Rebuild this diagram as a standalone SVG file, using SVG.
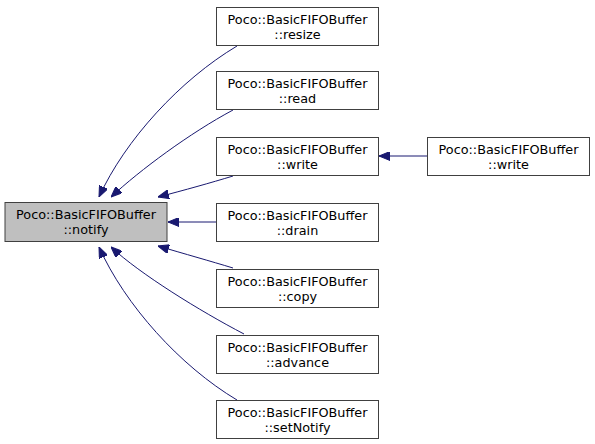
<svg xmlns="http://www.w3.org/2000/svg" width="595" height="444" viewBox="0 0 595 444">
<defs>
<style>
.node rect{fill:#ffffff;stroke:#404040;stroke-width:1}
.node.main rect{fill:#bfbfbf}
.node text{font-family:"DejaVu Sans",sans-serif;font-size:12.8px;text-anchor:middle;fill:#000}
.edge{fill:none;stroke:#191970;stroke-width:1}
</style>
<marker id="ah" viewBox="0 0 11 9" refX="11" refY="4.5" markerWidth="11" markerHeight="9" markerUnits="userSpaceOnUse" orient="auto">
<path d="M11,4.5 L0,0 L0,9 z" fill="#191970" stroke="#191970" stroke-width="1"/>
</marker>
</defs>
<rect width="595" height="444" fill="#ffffff"/>
<g id="connectors">
<path class="edge" marker-end="url(#ah)" d="M237,46 C180,80 125,140 99,197"/>
<path class="edge" marker-end="url(#ah)" d="M233,110 C190,133 140,170 111,197"/>
<path class="edge" marker-end="url(#ah)" d="M233,176 C210,183 185,190 158,197"/>
<path class="edge" marker-end="url(#ah)" d="M216,222 L168,222"/>
<path class="edge" marker-end="url(#ah)" d="M233,268 C210,261 185,254 158,246"/>
<path class="edge" marker-end="url(#ah)" d="M244,334 C200,311 140,274 111,247"/>
<path class="edge" marker-end="url(#ah)" d="M237,400 C180,366 125,305 99,247"/>
<path class="edge" marker-end="url(#ah)" d="M427,156 L379,156"/>
</g>
<g id="notify" class="node main"><rect x="5" y="202.5" width="162" height="39"/><text x="86" y="219">Poco::BasicFIFOBuffer</text><text x="86" y="234">::notify</text></g>
<g id="resize" class="node"><rect x="216.5" y="7.5" width="162" height="38"/><text x="297.5" y="24">Poco::BasicFIFOBuffer</text><text x="297.5" y="39">::resize</text></g>
<g id="read" class="node"><rect x="216.5" y="71.5" width="162" height="38"/><text x="297.5" y="88">Poco::BasicFIFOBuffer</text><text x="297.5" y="103">::read</text></g>
<g id="write" class="node"><rect x="216.5" y="137.5" width="162" height="38"/><text x="297.5" y="154">Poco::BasicFIFOBuffer</text><text x="297.5" y="169">::write</text></g>
<g id="drain" class="node"><rect x="216.5" y="203.5" width="162" height="38"/><text x="297.5" y="220">Poco::BasicFIFOBuffer</text><text x="297.5" y="235">::drain</text></g>
<g id="copy" class="node"><rect x="216.5" y="269.5" width="162" height="38"/><text x="297.5" y="286">Poco::BasicFIFOBuffer</text><text x="297.5" y="301">::copy</text></g>
<g id="advance" class="node"><rect x="216.5" y="335.5" width="162" height="38"/><text x="297.5" y="352">Poco::BasicFIFOBuffer</text><text x="297.5" y="367">::advance</text></g>
<g id="setNotify" class="node"><rect x="216.5" y="400.5" width="162" height="38"/><text x="297.5" y="417">Poco::BasicFIFOBuffer</text><text x="297.5" y="432">::setNotify</text></g>
<g id="write2" class="node"><rect x="427.5" y="137.5" width="162" height="38"/><text x="508.5" y="154">Poco::BasicFIFOBuffer</text><text x="508.5" y="169">::write</text></g>
</svg>
